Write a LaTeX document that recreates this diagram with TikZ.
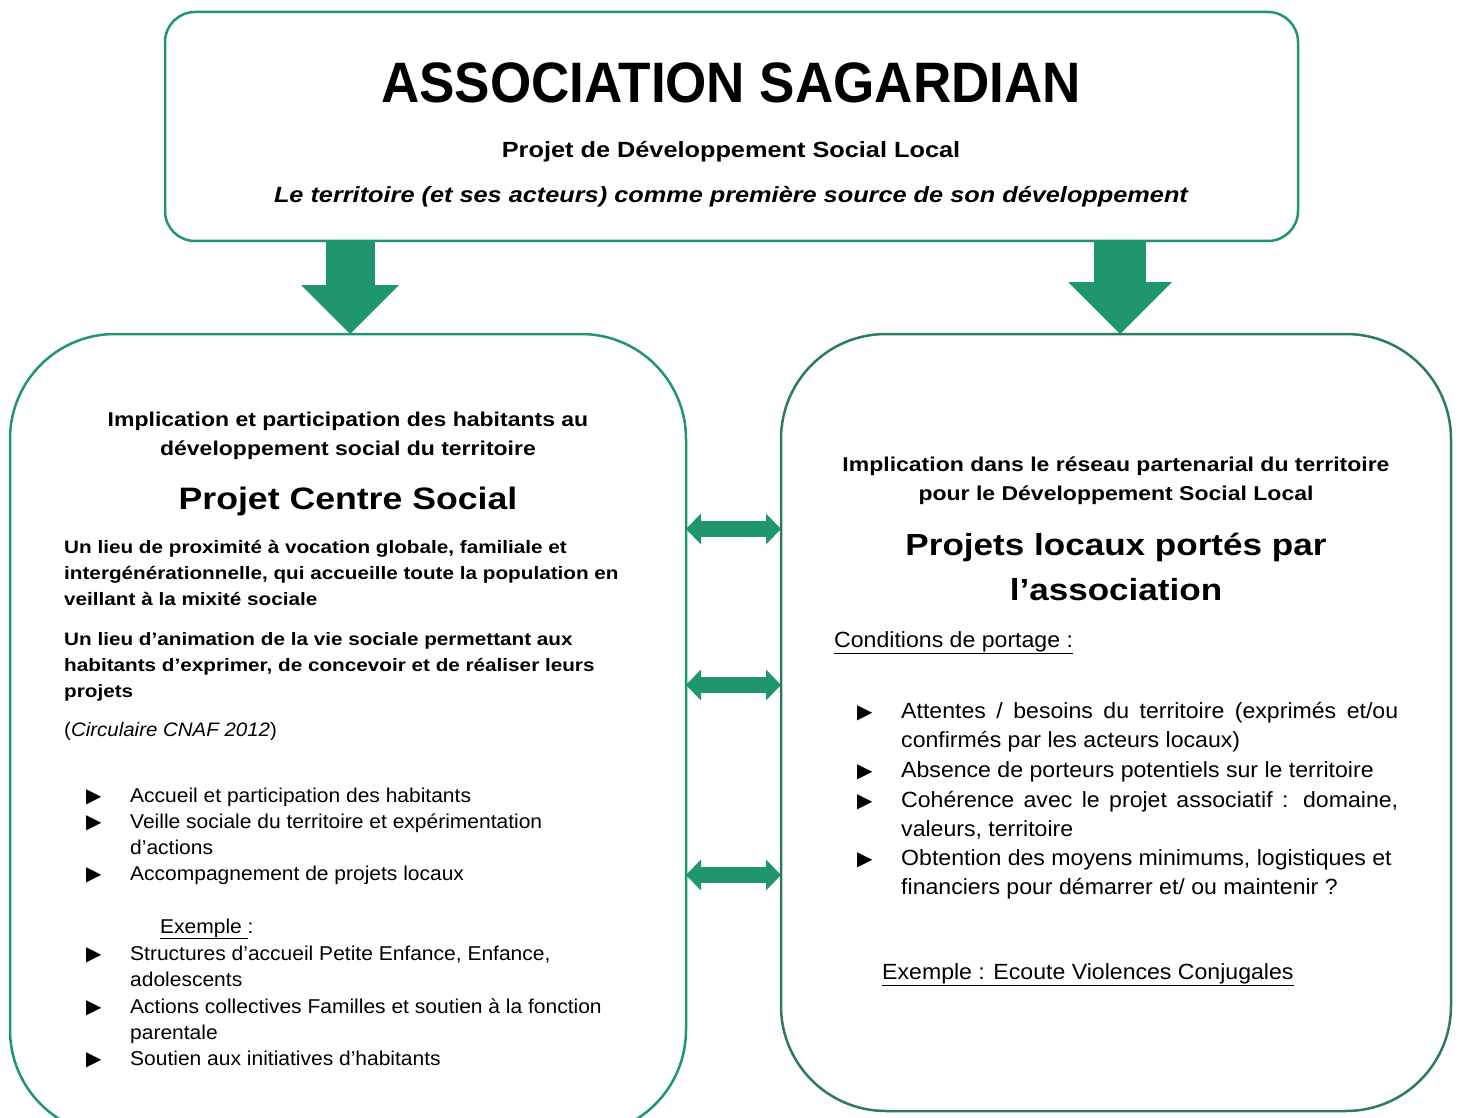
\documentclass[tikz,border=0pt]{standalone}
\usepackage{fontspec}
\setmainfont[FakeStretch=1.05]{Liberation Sans}
\newfontfamily\hdfont[FakeStretch=1.15]{Liberation Sans}
\newfontfamily\titlefont[FakeStretch=0.93]{Liberation Sans}
\newfontfamily\symfont{DejaVu Sans}
\usepackage{xcolor}
\usepackage{tikz}
\usetikzlibrary{arrows.meta,positioning,calc}

\definecolor{sagegreen}{HTML}{1F9670}
\definecolor{darkgreen}{HTML}{2B7B5C}
\newcommand{\fsz}[2]{\fontsize{#1}{#2}\selectfont}
% lines of a paragraph, baseline on the first one
\newcommand{\lignes}[2][l]{\begin{tabular}[t]{@{}#1@{}}#2\end{tabular}}

\tikzset{
  box/.style={draw, line width=2.5pt, inner sep=0pt, outer sep=0pt},
  txt/.style={inner sep=0pt, anchor=base west},
  ctr/.style={inner sep=0pt, anchor=base},
  puce/.style={inner sep=0pt, anchor=base west, font=\symfont\fsz{20}{20}},
  downarrow/.style={line width=#1, draw=sagegreen,
    -{Triangle[width=2*#1 0 0, length=#1 0 0, line width=0pt 0 0]}},
  linkarrow/.style={line width=16pt, draw=sagegreen,
    {Triangle[width=31pt 0 0, length=15pt 0 0, line width=0pt 0 0]}-{Triangle[width=31pt 0 0, length=15pt 0 0, line width=0pt 0 0]}},
}

\begin{document}
\begin{tikzpicture}[x=1pt, y=-1pt]
\useasboundingbox (0,0) rectangle (1459,1118);

    % Boxes
    \node[box, draw=sagegreen, rounded corners=30pt, minimum width=1133pt, minimum height=229pt] (assoc) at (731.5,126.5) {};
    \node[box, draw=sagegreen, rounded corners=105pt, minimum width=676pt, minimum height=801pt] (centre) at (348,734.5) {};
    \node[box, draw=darkgreen, rounded corners=105pt, minimum width=670pt, minimum height=777pt] (projets) at (1116,722.5) {};

    % Top box texts
    \node[ctr, font=\titlefont\bfseries\fsz{57}{68}] (titre) at (731,103) {ASSOCIATION SAGARDIAN};
    \node[ctr, font=\hdfont\bfseries\fsz{22}{26}] (pdsl) at (731,158) {Projet de Développement Social Local};
    \node[ctr, font=\hdfont\bfseries\itshape\fsz{22}{26}] (devise) at (731,203) {Le territoire (et ses acteurs) comme première source de son développement};

    % Arrows
    \draw[downarrow=49pt] ([xshift=2pt]assoc.south -| centre.north) -- ([xshift=2pt]centre.north);
    \draw[downarrow=52pt] ([xshift=4pt]assoc.south -| projets.north) -- ([xshift=4pt]projets.north);
    \foreach \y in {529,685,875} {
        \draw[linkarrow] (centre.east |- 0,\y) -- (projets.west |- 0,\y);
    }

    % Left box: Projet Centre Social
    \node[ctr, font=\hdfont\bfseries\fsz{20}{29}] (implicG) at (348,426) {\lignes[c]{Implication et participation des habitants au\\développement social du territoire}};
    \node[ctr, font=\hdfont\bfseries\fsz{31}{38}] (csocial) at (348,509) {Projet Centre Social};
    \node[txt, font=\hdfont\bfseries\fsz{18}{26}] (lieu1) at (64,553) {\lignes{Un lieu de proximité à vocation globale, familiale et\\intergénérationnelle, qui accueille toute la population en\\veillant à la mixité sociale}};
    \node[txt, font=\hdfont\bfseries\fsz{18}{26}] (lieu2) at (64,645) {\lignes{Un lieu d’animation de la vie sociale permettant aux\\habitants d’exprimer, de concevoir et de réaliser leurs\\projets}};
    \node[txt, font=\fsz{19.5}{23}] (cnaf) at (64,736) {(\textit{Circulaire CNAF 2012})};
    \foreach \y/\lbl in {802/{Accueil et participation des habitants},
                         828/{Veille sociale du territoire et expérimentation\\d’actions},
                         880/{Accompagnement de projets locaux},
                         960/{Structures d’accueil Petite Enfance, Enfance,\\adolescents},
                         1013/{Actions collectives Familles et soutien à la fonction\\parentale},
                         1065/{Soutien aux initiatives d’habitants}} {
        \node[puce] (pg-\y) at (86,\y) {▶};
        \node[txt, font=\fsz{20}{26}] (ig-\y) at (130,\y) {\lignes{\lbl}};
    }
    \node[txt, font=\fsz{20}{26}] (exG) at (160,933) {\underline{Exemple\ }:};

    % Right box: Projets locaux
    \node[ctr, font=\hdfont\bfseries\fsz{20}{29}] (implicD) at (1116,471) {\lignes[c]{Implication dans le réseau partenarial du territoire\\pour le Développement Social Local}};
    \node[ctr, font=\hdfont\bfseries\fsz{30.5}{45}] (plocaux) at (1116,555) {\lignes[c]{Projets locaux portés par\\l’association}};
    \node[txt, font=\fsz{22}{29}] (portage) at (834,647) {\underline{Conditions de portage :}};
    \foreach \y/\lbl in {718/{\makebox[497pt][s]{Attentes / besoins du territoire (exprimés et/ou}\\confirmés par les acteurs locaux)},
                         777/{Absence de porteurs potentiels sur le territoire},
                         807/{\makebox[497pt][s]{Cohérence avec le projet associatif : domaine,}\\valeurs, territoire},
                         865/{Obtention des moyens minimums, logistiques et\\financiers pour démarrer et/ ou maintenir ?}} {
        \node[puce] (pd-\y) at (857,\y) {▶};
        \node[txt, font=\fsz{22}{29}] (id-\y) at (901,\y) {\lignes{\lbl}};
    }
    \node[txt, font=\fsz{22}{29}] (ecoute) at (882,979) {\underline{Exemple : Ecoute Violences Conjugales}};
\end{tikzpicture}
\end{document}
